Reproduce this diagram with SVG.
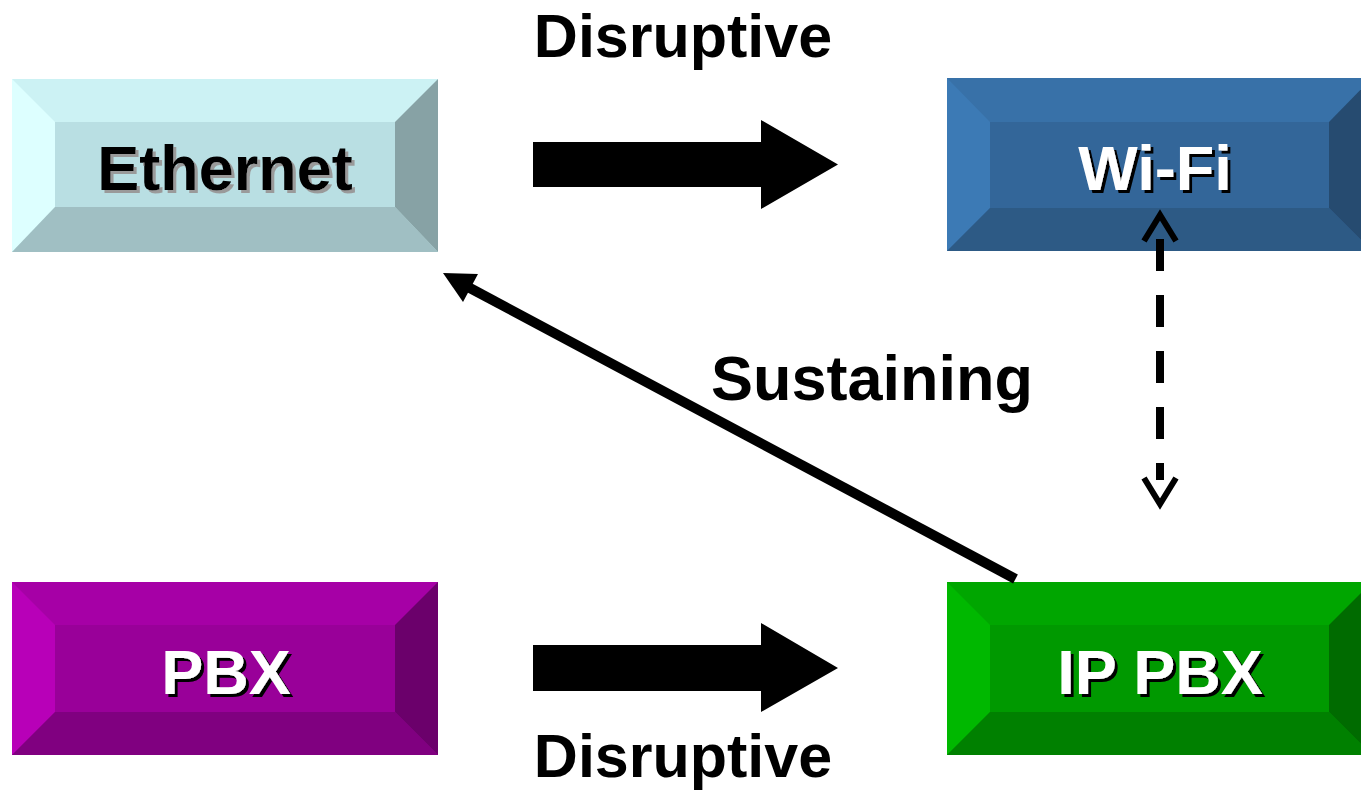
<svg xmlns="http://www.w3.org/2000/svg" width="1361" height="795" viewBox="0 0 1361 795">
<style>
text{font-family:"Liberation Sans",Arial,sans-serif;font-weight:bold;text-anchor:middle}
.lbl{font-size:63px}
.big{font-size:61px;fill:#000}
.blk{fill:#000;filter:url(#shGray)}
.wht{fill:#fff;filter:url(#shBlack)}
</style>
<defs>
<filter id="shGray" x="-10%" y="-20%" width="130%" height="150%">
<feOffset in="SourceAlpha" dx="3" dy="3" result="o"/>
<feFlood flood-color="#9a9a9a"/>
<feComposite in2="o" operator="in" result="s"/>
<feMerge><feMergeNode in="s"/><feMergeNode in="SourceGraphic"/></feMerge>
</filter>
<filter id="shBlack" x="-10%" y="-20%" width="130%" height="150%">
<feOffset in="SourceAlpha" dx="3" dy="3" result="o"/>
<feFlood flood-color="#000"/>
<feComposite in2="o" operator="in" result="s"/>
<feMerge><feMergeNode in="s"/><feMergeNode in="SourceGraphic"/></feMerge>
</filter>
</defs>
<rect width="1361" height="795" fill="#fff"/>
<g id="node-ethernet">
<rect x="12" y="79" width="426" height="173" fill="#CCF2F4"/>
<polygon points="12,79 55,122 55,207 12,252" fill="#DDFFFF"/>
<polygon points="12,252 55,207 395,207 438,252" fill="#A0BFC3"/>
<polygon points="438,79 438,252 395,207 395,122" fill="#87A2A5"/>
<rect x="55" y="122" width="340" height="85" fill="#B9DFE3"/>
<text class="lbl blk" x="225" y="190">Ethernet</text>
</g>
<g id="node-wifi">
<rect x="947" y="78" width="425" height="173" fill="#3871A8"/>
<polygon points="947,78 990,122 990,208 947,251" fill="#3C7AB5"/>
<polygon points="947,251 990,208 1329,208 1372,251" fill="#2D5A85"/>
<polygon points="1372,78 1372,251 1329,208 1329,122" fill="#264B70"/>
<rect x="990" y="122" width="339" height="86" fill="#336699"/>
<text class="lbl wht" x="1155" y="190">Wi-Fi</text>
</g>
<g id="node-pbx">
<rect x="12" y="582" width="426" height="173" fill="#A600A6"/>
<polygon points="12,582 55,625 55,712 12,755" fill="#B800B8"/>
<polygon points="12,755 55,712 395,712 438,755" fill="#800080"/>
<polygon points="438,582 438,755 395,712 395,625" fill="#6B006B"/>
<rect x="55" y="625" width="340" height="87" fill="#990099"/>
<text class="lbl wht" x="226" y="694">PBX</text>
</g>
<g id="node-ippbx">
<rect x="947" y="582" width="425" height="173" fill="#00A600"/>
<polygon points="947,582 990,625 990,712 947,755" fill="#00B800"/>
<polygon points="947,755 990,712 1329,712 1372,755" fill="#008000"/>
<polygon points="1372,582 1372,755 1329,712 1329,625" fill="#006B00"/>
<rect x="990" y="625" width="339" height="87" fill="#009900"/>
<text class="lbl wht" x="1160" y="694">IP PBX</text>
</g>
<g id="connectors">
<polygon points="533,142 761,142 761,120 838,164.5 761,209 761,187 533,187" fill="#000"/>
<polygon points="533,645 761,645 761,623 838,668 761,712 761,691 533,691" fill="#000"/>
<line x1="1015.5" y1="579" x2="468" y2="287" stroke="#000" stroke-width="10"/>
<polygon points="443,273 478,274 463,302" fill="#000"/>
<line x1="1160" y1="239" x2="1160" y2="480" stroke="#000" stroke-width="8" stroke-dasharray="32 24"/>
<polyline points="1144,241 1160,215 1176,241" fill="none" stroke="#000" stroke-width="6"/>
<polyline points="1144,478 1160,504 1176,478" fill="none" stroke="#000" stroke-width="6"/>
</g>
<g id="labels">
<text class="big" x="683" y="57">Disruptive</text>
<text class="big" x="683" y="777">Disruptive</text>
<text class="big" x="872" y="400" style="font-size:63px">Sustaining</text>
</g>
</svg>
